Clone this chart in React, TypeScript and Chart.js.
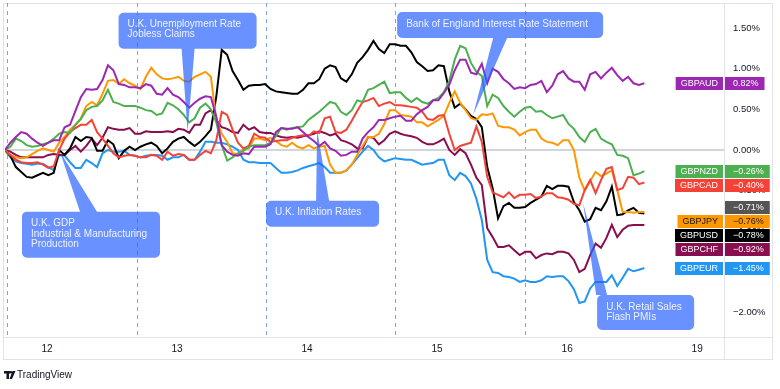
import React, { useEffect, useRef } from 'react';
import { Chart, registerables } from 'chart.js';

Chart.register(...registerables);

const FONT = "'Liberation Sans', Arial, sans-serif";

// time axis: hours since the first bar
const hours = [
  0, 1, 2, 3, 4, 5, 6, 7, 8, 9, 10, 11, 12, 13, 14, 15, 16, 17, 18, 19,
  20, 21, 22, 23, 24, 25, 26, 27, 28, 29, 30, 31, 32, 33, 34, 35, 36, 37, 38, 39,
  40, 41, 42, 43, 44, 45, 46, 47, 48, 49, 50, 51, 52, 53, 54, 55, 56, 57, 58, 59,
  60, 61, 62, 63, 64, 65, 66, 67, 68, 69, 70, 71, 72, 73, 74, 75, 76, 77, 78, 79,
  80, 81, 82, 83, 84, 85, 86, 87, 88, 89, 90, 91, 92, 93, 94, 95, 96, 97, 98, 99,
  100, 101, 102, 103, 104, 105, 106, 107, 108, 109, 110, 111, 112, 113, 114, 115, 116, 117, 118,
];
const axisEndHour = 132.7;
const dayTickHours = [7.75, 31.75, 55.75, 79.75, 103.75, 127.75];
const dayLabels = ['12', '13', '14', '15', '16', '19'];
const sessionBreaks = [0.3, 24.3, 48.1, 72, 95.9];
const yTicks = [-2, -1.5, -1, -0.5, 0, 0.5, 1, 1.5];
const yMin = -2.297;
const yMax = 1.806;

// % change series (hourly)
const gbpaud = [
  0.0, 0.09, 0.16, 0.22, 0.2, 0.14, 0.09, 0.05, 0.09, 0.12, 0.12, 0.28, 0.31, 0.48, 0.65, 0.75, 0.74, 0.75, 0.86, 1.04,
  0.98, 0.81, 0.8, 0.77, 0.77, 0.76, 0.81, 0.79, 0.69, 0.68, 0.76, 0.68, 0.65, 0.59, 0.52, 0.58, 0.63, 0.66, 0.65, 0.41,
  0.06, -0.02, -0.06, -0.07, -0.04, -0.05, 0.04, 0.04, 0.04, 0.07, 0.22, 0.27, 0.26, 0.26, 0.28, 0.22, 0.16, 0.11, 0.05, 0.1,
  0.02, -0.01, -0.07, -0.06, -0.02, -0.02, 0.14, 0.22, 0.28, 0.37, 0.37, 0.39, 0.41, 0.42, 0.36, 0.36, 0.44, 0.49, 0.53, 0.61,
  0.61, 0.7, 0.8, 0.98, 1.11, 1.11, 0.95, 0.93, 1.06, 0.82, 1.0, 0.96, 0.87, 0.82, 0.75, 0.77, 0.76, 0.8, 0.81, 0.85,
  0.71, 0.79, 0.93, 0.97, 0.88, 0.84, 0.84, 0.74, 0.93, 0.96, 0.88, 0.95, 1.01, 0.92, 0.85, 0.9, 0.82, 0.8, 0.82,
];
const gbpnzd = [
  0.0, 0.04, 0.14, 0.11, 0.06, 0.04, 0.05, 0.07, 0.09, 0.14, 0.2, 0.22, 0.21, 0.31, 0.38, 0.49, 0.53, 0.54, 0.61, 0.74,
  0.59, 0.57, 0.54, 0.54, 0.54, 0.52, 0.49, 0.48, 0.43, 0.45, 0.58, 0.55, 0.5, 0.43, 0.34, 0.39, 0.52, 0.57, 0.5, 0.34,
  0.06, -0.13, -0.09, -0.04, -0.01, 0.04, 0.06, 0.06, 0.06, 0.09, 0.17, 0.27, 0.25, 0.27, 0.28, 0.29, 0.37, 0.42, 0.47, 0.53,
  0.59, 0.57, 0.47, 0.43, 0.49, 0.61, 0.59, 0.74, 0.76, 0.8, 0.84, 0.7, 0.71, 0.71, 0.64, 0.59, 0.64, 0.59, 0.57, 0.61,
  0.64, 0.71, 0.85, 1.11, 1.28, 1.25, 1.07, 0.96, 0.91, 0.54, 0.68, 0.64, 0.54, 0.47, 0.41, 0.47, 0.52, 0.53, 0.47, 0.48,
  0.43, 0.39, 0.41, 0.43, 0.32, 0.26, 0.16, 0.1, 0.22, 0.26, 0.14, 0.1, 0.07, -0.06, -0.07, -0.1, -0.31, -0.29, -0.26,
];
const gbpcad = [
  0.0, -0.06, -0.12, -0.15, -0.16, -0.16, -0.15, -0.18, -0.22, -0.2, 0.0, 0.14, 0.22, 0.27, 0.31, 0.31, 0.37, 0.22, 0.14, 0.05,
  -0.04, -0.09, -0.07, -0.06, -0.07, -0.09, -0.09, -0.06, -0.07, -0.12, -0.02, -0.07, -0.05, -0.06, -0.12, -0.12, -0.06, -0.01, -0.04, 0.12,
  0.47, 0.43, 0.25, 0.09, 0.02, 0.05, 0.2, 0.16, 0.15, 0.1, 0.11, 0.12, 0.12, 0.15, 0.17, 0.18, 0.17, 0.23, 0.21, 0.39,
  0.41, 0.22, 0.21, 0.25, 0.36, 0.48, 0.59, 0.61, 0.64, 0.54, 0.57, 0.59, 0.55, 0.55, 0.54, 0.53, 0.52, 0.47, 0.38, 0.37,
  0.42, 0.43, 0.2, 0.0, 0.05, 0.07, 0.09, 0.29, 0.1, -0.33, -0.52, -0.55, -0.58, -0.52, -0.59, -0.55, -0.55, -0.54, -0.59, -0.57,
  -0.53, -0.53, -0.58, -0.59, -0.61, -0.66, -0.68, -0.49, -0.37, -0.53, -0.37, -0.23, -0.21, -0.49, -0.47, -0.33, -0.34, -0.42, -0.4,
];
const gbpjpy = [
  0.0, -0.06, -0.09, -0.1, -0.09, -0.05, -0.01, 0.02, 0.0, -0.02, 0.09, 0.16, 0.25, 0.31, 0.39, 0.54, 0.59, 0.55, 0.69, 0.85,
  0.86, 0.81, 0.87, 0.82, 0.79, 0.75, 0.9, 1.01, 0.93, 0.88, 0.87, 0.88, 0.9, 0.85, 0.84, 0.9, 0.93, 0.96, 0.9, 0.37,
  0.2, 0.1, -0.04, -0.05, 0.01, 0.02, 0.14, 0.14, 0.12, 0.15, 0.11, 0.06, 0.04, 0.09, 0.04, 0.02, 0.06, 0.02, 0.04, 0.05,
  -0.18, -0.28, -0.28, -0.25, -0.18, -0.06, 0.05, 0.16, 0.16, 0.2, 0.32, 0.49, 0.49, 0.43, 0.42, 0.41, 0.34, 0.34, 0.29, 0.33,
  0.37, 0.42, 0.58, 0.72, 0.58, 0.49, 0.39, 0.37, 0.44, 0.43, 0.45, 0.3, 0.28, 0.28, 0.25, 0.18, 0.22, 0.25, 0.25, 0.14,
  0.1, 0.09, 0.06, 0.12, 0.12, 0.0, -0.34, -0.5, -0.38, -0.27, -0.32, -0.29, -0.25, -0.49, -0.76, -0.76, -0.77, -0.76, -0.76,
];
const gbpusd = [
  0.0, -0.07, -0.21, -0.27, -0.33, -0.34, -0.31, -0.28, -0.31, -0.28, 0.0, -0.06, 0.02, 0.16, 0.11, 0.16, 0.15, -0.01, -0.01, 0.12,
  0.07, -0.1, -0.01, 0.04, 0.0, 0.04, 0.07, 0.09, 0.05, -0.04, 0.02, 0.1, 0.14, 0.16, 0.1, 0.05, 0.1, 0.17, 0.25, 0.66,
  1.23, 1.17, 0.97, 0.86, 0.74, 0.79, 0.8, 0.8, 0.81, 0.75, 0.72, 0.71, 0.7, 0.69, 0.69, 0.74, 0.82, 0.82, 0.87, 1.0,
  1.04, 1.02, 0.88, 0.84, 0.93, 1.07, 1.14, 1.23, 1.34, 1.24, 1.19, 1.3, 1.3, 1.28, 1.28, 1.2, 1.08, 1.03, 0.97, 0.98,
  1.04, 1.03, 0.72, 0.52, 0.57, 0.5, 0.42, 0.38, 0.28, -0.21, -0.47, -0.84, -0.69, -0.65, -0.71, -0.71, -0.7, -0.65, -0.61, -0.57,
  -0.44, -0.48, -0.44, -0.44, -0.45, -0.64, -0.74, -0.88, -0.85, -0.71, -0.74, -0.63, -0.45, -0.8, -0.79, -0.74, -0.71, -0.77, -0.78,
];
const gbpchf = [
  0.0, -0.02, -0.06, -0.09, -0.09, -0.09, -0.09, -0.09, -0.06, -0.05, -0.06, -0.06, 0.0, 0.05, -0.02, 0.05, 0.14, 0.06, 0.15, 0.28,
  0.26, 0.25, 0.25, 0.27, 0.2, 0.2, 0.23, 0.22, 0.22, 0.22, 0.23, 0.22, 0.26, 0.25, 0.21, 0.31, 0.31, 0.45, 0.49, 0.37,
  0.28, 0.26, 0.22, 0.21, 0.31, 0.25, 0.28, 0.22, 0.21, 0.21, 0.18, 0.16, 0.15, 0.16, 0.15, 0.17, 0.18, 0.2, 0.23, 0.21,
  0.18, 0.2, 0.12, 0.1, 0.07, 0.02, 0.02, 0.16, 0.15, 0.07, 0.12, 0.2, 0.23, 0.2, 0.18, 0.17, 0.15, 0.1, 0.07, 0.07,
  0.1, 0.14, 0.0, -0.06, 0.01, -0.04, -0.18, -0.34, -0.43, -0.96, -1.07, -1.19, -1.19, -1.17, -1.23, -1.29, -1.25, -1.25, -1.33, -1.29,
  -1.27, -1.28, -1.25, -1.25, -1.27, -1.35, -1.5, -1.46, -1.29, -1.15, -1.2, -1.08, -0.92, -1.07, -0.98, -0.93, -0.92, -0.92, -0.92,
];
const gbpeur = [
  0.0, -0.09, -0.14, -0.16, -0.17, -0.18, -0.17, -0.17, -0.21, -0.25, -0.06, -0.07, -0.15, -0.22, -0.22, -0.12, -0.16, -0.21, -0.04, 0.0,
  -0.02, -0.02, -0.01, -0.06, -0.07, -0.09, -0.07, -0.06, -0.06, -0.07, -0.12, -0.09, -0.09, -0.06, -0.12, -0.12, -0.02, 0.1, 0.1, 0.09,
  0.09, 0.07, 0.04, 0.0, -0.12, -0.15, -0.15, -0.16, -0.16, -0.16, -0.22, -0.28, -0.28, -0.27, -0.25, -0.22, -0.2, -0.18, -0.16, -0.21,
  -0.28, -0.28, -0.28, -0.25, -0.18, -0.1, -0.02, 0.05, 0.0, -0.09, -0.14, -0.12, -0.1, -0.11, -0.12, -0.12, -0.15, -0.18, -0.17, -0.16,
  -0.12, -0.12, -0.31, -0.37, -0.28, -0.32, -0.41, -0.6, -0.86, -1.35, -1.5, -1.51, -1.55, -1.56, -1.58, -1.62, -1.6, -1.62, -1.62, -1.6,
  -1.55, -1.56, -1.55, -1.55, -1.61, -1.71, -1.88, -1.86, -1.7, -1.62, -1.62, -1.62, -1.54, -1.67, -1.57, -1.46, -1.49, -1.47, -1.45,
];

const pairNames = ['GBPAUD', 'GBPNZD', 'GBPCAD', 'GBPJPY', 'GBPUSD', 'GBPCHF', 'GBPEUR'];
const pairValues = [gbpaud, gbpnzd, gbpcad, gbpjpy, gbpusd, gbpchf, gbpeur];
const pairColors = ['#9c27b0', '#4caf50', '#f44336', '#ff9800', '#000000', '#880e4f', '#2196f3'];
const pairLabelText = ['#ffffff', '#ffffff', '#ffffff', '#131722', '#ffffff', '#ffffff', '#ffffff'];
const extraMarkerValue = -0.71;
const extraMarkerColor = '#555555';

const callouts = [
  { lines: ['U.K. Unemployment Rate', 'Jobless Claims'], tipHour: 33.7, tipValue: 0.225, box: { dx: -69, dy: -119, w: 138, h: 36 }, base: { side: 'bottom', a: -6, b: 7 }, textY: [12, 22] },
  { lines: ['Bank of England Interest Rate Statement'], tipHour: 86.4, tipValue: 0.43, box: { dx: -76, dy: -103, w: 206, h: 26 }, base: { side: 'bottom', a: 20, b: 34 }, textY: [12] },
  { lines: ['U.K. GDP', 'Industrial & Manufacturing', 'Production'], tipHour: 10.15, tipValue: -0.02, box: { dx: -38, dy: 60, w: 138, h: 46 }, base: { side: 'top', a: 20, b: 37 }, textY: [12, 23, 33] },
  { lines: ['U.K. Inflation Rates'], tipHour: 57.6, tipValue: 0.25, box: { dx: -51, dy: 71, w: 113, h: 26 }, base: { side: 'top', a: -1, b: 12 }, textY: [12] },
  { lines: ['U.K. Retail Sales', 'Flash PMIs'], tipHour: 106.7, tipValue: -0.65, box: { dx: 14, dy: 92, w: 97, h: 35 }, base: { side: 'top', a: 13, b: 24 }, textY: [12, 22] },
];

const fmtPct = (v: number) => (v < 0 ? '\u2212' : '') + Math.abs(v).toFixed(2) + '%';

const backgroundPlugin = {
  id: 'tvBackground',
  beforeDatasetsDraw(chart: any) {
    const { ctx, chartArea: ca, scales } = chart;
    const x = scales.x;
    const y = scales.y;
    ctx.save();
    ctx.strokeStyle = '#e0e3eb';
    ctx.lineWidth = 1;
    ctx.strokeRect(3.5, 3.5, y.right - 3, x.bottom - 3);
    ctx.beginPath();
    ctx.moveTo(3, ca.bottom + 0.5);
    ctx.lineTo(y.right + 0.5, ca.bottom + 0.5);
    ctx.moveTo(ca.right + 0.5, 3);
    ctx.lineTo(ca.right + 0.5, x.bottom + 0.5);
    ctx.stroke();
    ctx.setLineDash([4, 4]);
    ctx.strokeStyle = '#7ea3f6';
    sessionBreaks.forEach((h) => {
      const px = Math.round(x.getPixelForValue(h)) + 0.5;
      ctx.beginPath();
      ctx.moveTo(px, ca.top);
      ctx.lineTo(px, ca.bottom);
      ctx.stroke();
    });
    ctx.setLineDash([]);
    const y0 = Math.round(y.getPixelForValue(0));
    ctx.strokeStyle = '#d3d5dc';
    ctx.lineWidth = 2;
    ctx.beginPath();
    ctx.moveTo(ca.left, y0);
    ctx.lineTo(ca.right, y0);
    ctx.stroke();
    ctx.restore();
  },
};

const calloutPlugin = {
  id: 'tvCallouts',
  afterDatasetsDraw(chart: any) {
    const { ctx, scales } = chart;
    ctx.save();
    callouts.forEach((c) => {
      const tx = scales.x.getPixelForValue(c.tipHour);
      const ty = scales.y.getPixelForValue(c.tipValue);
      const bx = tx + c.box.dx;
      const by = ty + c.box.dy;
      const { w, h } = c.box;
      const r = 5;
      ctx.beginPath();
      ctx.moveTo(bx + r, by);
      if (c.base.side === 'top') {
        ctx.lineTo(tx + c.base.a, by);
        ctx.lineTo(tx, ty);
        ctx.lineTo(tx + c.base.b, by);
      }
      ctx.lineTo(bx + w - r, by);
      ctx.arcTo(bx + w, by, bx + w, by + r, r);
      ctx.lineTo(bx + w, by + h - r);
      ctx.arcTo(bx + w, by + h, bx + w - r, by + h, r);
      if (c.base.side === 'bottom') {
        ctx.lineTo(tx + c.base.b, by + h);
        ctx.lineTo(tx, ty);
        ctx.lineTo(tx + c.base.a, by + h);
      }
      ctx.lineTo(bx + r, by + h);
      ctx.arcTo(bx, by + h, bx, by + h - r, r);
      ctx.lineTo(bx, by + r);
      ctx.arcTo(bx, by, bx + r, by, r);
      ctx.closePath();
      ctx.fillStyle = 'rgba(41, 98, 255, 0.7)';
      ctx.fill();
      ctx.fillStyle = '#eef2ff';
      ctx.font = `10px ${FONT}`;
      ctx.textAlign = 'left';
      ctx.textBaseline = 'middle';
      c.lines.forEach((line, i) => {
        ctx.fillText(line, bx + 9, by + c.textY[i]);
      });
    });
    ctx.restore();
  },
};

const labelsPlugin = {
  id: 'tvLabels',
  afterDraw(chart: any) {
    const { ctx, chartArea: ca, scales } = chart;
    const y = scales.y;
    const items = pairNames.map((name, i) => ({
      name,
      value: pairValues[i][pairValues[i].length - 1],
      color: pairColors[i],
      text: pairLabelText[i],
    }));
    items.push({ name: '', value: extraMarkerValue, color: extraMarkerColor, text: '#ffffff' });
    const boxH = 13;
    const placed = items
      .map((it) => ({ ...it, cy: y.getPixelForValue(it.value) }))
      .sort((a, b) => a.cy - b.cy);
    let prevBottom = -Infinity;
    placed.forEach((p) => {
      let top = p.cy - boxH / 2;
      if (top < prevBottom + 1) top = prevBottom + 1;
      prevBottom = top + boxH;
      (p as any).top = top;
    });
    ctx.save();
    ctx.textBaseline = 'middle';
    placed.forEach((p: any) => {
      const top = Math.round(p.top);
      ctx.font = `9px ${FONT}`;
      const valText = fmtPct(p.value);
      const vw = ctx.measureText(valText).width;
      ctx.fillStyle = p.color;
      ctx.fillRect(ca.right + 1, top, 8 + vw + 6, boxH);
      ctx.fillStyle = p.text;
      ctx.textAlign = 'left';
      ctx.fillText(valText, ca.right + 9, top + boxH / 2 + 0.5);
      if (p.name) {
        const nw = ctx.measureText(p.name).width;
        const w = nw + 10;
        ctx.fillStyle = p.color;
        ctx.fillRect(ca.right - 1 - w, top, w, boxH);
        ctx.fillStyle = p.text;
        ctx.fillText(p.name, ca.right - 1 - w + 5, top + boxH / 2 + 0.5);
      }
    });
    const ly = 375;
    ctx.fillStyle = '#131722';
    ctx.fillRect(4, ly - 4, 6, 2.5);
    ctx.fillRect(6.5, ly - 4, 2.5, 8);
    ctx.beginPath();
    ctx.arc(11, ly - 2.8, 1.3, 0, Math.PI * 2);
    ctx.fill();
    ctx.beginPath();
    ctx.moveTo(12.5, ly - 4);
    ctx.lineTo(15.5, ly - 4);
    ctx.lineTo(12, ly + 4);
    ctx.lineTo(9.5, ly + 4);
    ctx.closePath();
    ctx.fill();
    ctx.font = `10px ${FONT}`;
    ctx.textAlign = 'left';
    ctx.fillText('TradingView', 17, ly + 0.5);
    ctx.restore();
  },
};

export default function App() {
  const canvasRef = useRef<HTMLCanvasElement | null>(null);

  useEffect(() => {
    document.body.style.margin = '0';
    const canvas = canvasRef.current;
    if (!canvas) return;
    Chart.defaults.font.family = FONT;
    const chart = new Chart(canvas, {
      type: 'line',
      data: {
        datasets: pairNames.map((name, i) => ({
          label: name,
          data: hours.map((h, j) => ({ x: h, y: pairValues[i][j] })),
          borderColor: pairColors[i],
          backgroundColor: pairColors[i],
          borderWidth: 2,
          pointRadius: 0,
          tension: 0,
          fill: false,
        })),
      },
      options: {
        animation: false,
        responsive: false,
        maintainAspectRatio: false,
        devicePixelRatio: 1,
        layout: { padding: { left: 5, top: 3, right: 8, bottom: 30 } },
        plugins: { legend: { display: false }, tooltip: { enabled: false } },
        scales: {
          x: {
            type: 'linear',
            min: 0,
            max: axisEndHour,
            afterBuildTicks: (scale: any) => {
              scale.ticks = dayTickHours.map((v) => ({ value: v }));
            },
            afterFit: (scale: any) => {
              scale.height = 22;
              scale.paddingLeft = 0;
              scale.paddingRight = 0;
            },
            ticks: {
              autoSkip: false,
              maxRotation: 0,
              padding: 6,
              color: '#131722',
              font: { size: 10 },
              callback: (_v: any, i: number) => dayLabels[i],
            },
            grid: { display: false, drawTicks: false },
            border: { display: false },
          },
          y: {
            position: 'right',
            min: yMin,
            max: yMax,
            afterBuildTicks: (scale: any) => {
              scale.ticks = yTicks.map((v) => ({ value: v }));
            },
            afterFit: (scale: any) => {
              scale.width = 48;
              scale.paddingTop = 0;
              scale.paddingBottom = 0;
            },
            ticks: {
              padding: 9,
              color: '#131722',
              font: { size: 9.5 },
              callback: (v: any) => fmtPct(Number(v)),
            },
            grid: { display: false, drawTicks: false },
            border: { display: false },
          },
        },
      },
      plugins: [backgroundPlugin, calloutPlugin, labelsPlugin],
    } as any);
    return () => chart.destroy();
  }, []);

  return (
    <div style={{ width: 780, height: 389, background: '#ffffff' }}>
      <canvas ref={canvasRef} width={780} height={389} style={{ display: 'block' }} />
    </div>
  );
}
